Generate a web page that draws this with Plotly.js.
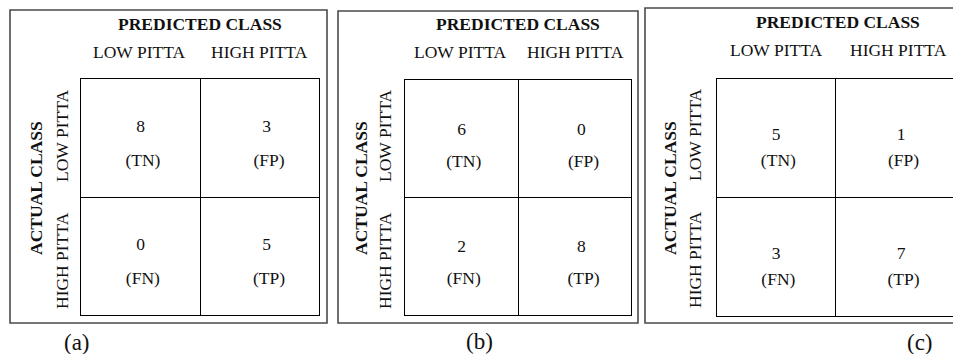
<!DOCTYPE html>
<html>
<head>
<meta charset="utf-8">
<script src="https://cdn.plot.ly/plotly-3.0.1.min.js"></script>
<style>html,body{margin:0;padding:0;background:#fff;}#chart{width:953px;height:354px;}</style>
</head>
<body>
<div id="chart"></div>
<script>
// ---- data ----
const panelNames = ["(a)", "(b)", "(c)"];
const classLabels = ["LOW PITTA", "HIGH PITTA"];
const predictedTitle = "PREDICTED CLASS";
const actualTitle = "ACTUAL CLASS";
const countsA = [[8, 3], [0, 5]];
const countsB = [[6, 0], [2, 8]];
const countsC = [[5, 1], [3, 7]];
const cellTags = [["(TN)", "(FP)"], ["(FN)", "(TP)"]];

// ---- layout helpers (pixels -> paper) ----
const W = 953, H = 354;
const px = x => x / W;
const py = y => 1 - y / H;
const FONT = "Liberation Serif, Times New Roman, serif";
const INK = "#111";
const FS = 17.5;

const panels = [
  {counts: countsA, grid: [81, 319, 79, 315], box: [10, 327, 10, 323], numOff: 0.41, mirrorY: true,
   pred: [200, 24], cls: [139, 259, 52], act: [36, 188], rot: [62, 136, 261], name: [77, 342]},
  {counts: countsB, grid: [405, 631, 80, 315], box: [338, 638, 11, 323], numOff: 0.43, mirrorY: true,
   pred: [518, 24], cls: [460, 575, 52], act: [361, 188], rot: [385, 136, 261], name: [480, 341]},
  {counts: countsC, grid: [717, 953, 79, 316], box: [645, 970, 8, 323], numOff: 0.48, mirrorY: false,
   pred: [838, 22], cls: [776, 898, 50], act: [670, 188], rot: [695, 135, 260], name: [920, 342]}
];

const data = [];
const layout = {
  width: W, height: H, margin: {l: 0, r: 0, t: 0, b: 0},
  paper_bgcolor: "#fff", plot_bgcolor: "#fff", showlegend: false,
  shapes: [], annotations: []
};

panels.forEach((p, i) => {
  const sfx = i === 0 ? "" : String(i + 1);
  const xa = "xaxis" + sfx, ya = "yaxis" + sfx;
  const axCommon = {
    range: [0, 2], showticklabels: false, ticks: "", tickvals: [1],
    showgrid: true, gridcolor: "#000", gridwidth: 1, zeroline: false,
    showline: true, linecolor: "#000", linewidth: 1, fixedrange: true
  };
  layout[xa] = Object.assign({}, axCommon, {domain: [px(p.grid[0]), Math.min(1, px(p.grid[1]))],
    mirror: true, anchor: "y" + sfx});
  layout[ya] = Object.assign({}, axCommon, {domain: [py(p.grid[3]), py(p.grid[2])],
    mirror: p.mirrorY, anchor: "x" + sfx});

  // numbers and tags inside cells
  const nx = [], ny = [], nt = [], tx = [], ty = [], tt = [];
  p.counts.forEach((row, r) => {
    row.forEach((v, c) => {
      const xc = c + (c === 0 ? 0.5 : 0.56);
      nx.push(xc); ny.push(2 - r - p.numOff); nt.push(String(v));
      tx.push(xc + 0.02); ty.push(2 - r - 0.70); tt.push(cellTags[r][c]);
    });
  });
  data.push({type: "scatter", mode: "text", x: nx, y: ny, text: nt, xaxis: "x" + sfx, yaxis: "y" + sfx,
    textfont: {family: FONT, size: FS, color: INK}, hoverinfo: "skip"});
  data.push({type: "scatter", mode: "text", x: tx, y: ty, text: tt, xaxis: "x" + sfx, yaxis: "y" + sfx,
    textfont: {family: FONT, size: FS, color: INK}, hoverinfo: "skip"});

  // outer box
  layout.shapes.push({type: "rect", xref: "paper", yref: "paper",
    x0: px(p.box[0]), x1: px(p.box[1]), y0: py(p.box[3]), y1: py(p.box[2]),
    line: {color: "#4a4a4a", width: 1.6}});

  const ann = (x, y, text, opts) => Object.assign({xref: "paper", yref: "paper", x: px(x), y: py(y),
    text: text, showarrow: false, xanchor: "center", yanchor: "middle",
    font: {family: FONT, size: FS, color: INK}}, opts || {});
  layout.annotations.push(ann(p.pred[0], p.pred[1], "<b>" + predictedTitle + "</b>"));
  layout.annotations.push(ann(p.cls[0], p.cls[2], classLabels[0]));
  layout.annotations.push(ann(p.cls[1], p.cls[2], classLabels[1]));
  layout.annotations.push(ann(p.act[0], p.act[1], "<b>" + actualTitle + "</b>", {textangle: -90}));
  layout.annotations.push(ann(p.rot[0], p.rot[1], classLabels[0], {textangle: -90}));
  layout.annotations.push(ann(p.rot[0], p.rot[2], classLabels[1], {textangle: -90}));
  layout.annotations.push(ann(p.name[0], p.name[1], panelNames[i], {font: {family: FONT, size: 23, color: INK}}));
});

Plotly.newPlot("chart", data, layout, {staticPlot: true, displayModeBar: false});
</script>
</body>
</html>
